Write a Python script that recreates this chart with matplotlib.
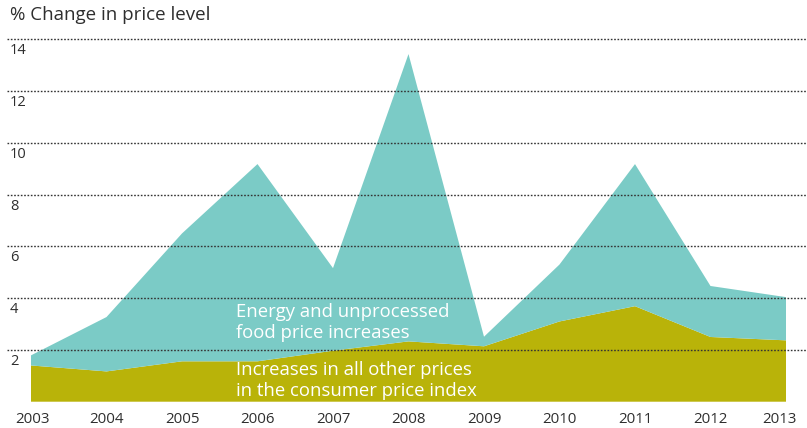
import matplotlib
matplotlib.use("Agg")
import matplotlib.pyplot as plt
import matplotlib.transforms as mtransforms

years = [2003, 2004, 2005, 2006, 2007, 2008, 2009, 2010, 2011, 2012, 2013]
other_prices = [1.40, 1.17, 1.56, 1.56, 1.97, 2.33, 2.14, 3.10, 3.69, 2.50, 2.37]
energy_food = [0.39, 2.10, 4.94, 7.62, 3.19, 11.10, 0.37, 2.20, 5.49, 1.97, 1.67]
ytick_values = [2, 4, 6, 8, 10, 12, 14]
ytick_labels = ["2", "4", "6", "8", "10", "12", "14"]
xtick_labels = [str(y) for y in years]
title = "% Change in price level"
label_energy = ["Energy and unprocessed", "food price increases"]
label_other = ["Increases in all other prices", "in the consumer price index"]

olive = "#b9b309"
teal = "#7bcbc6"
text_col = "#2e2e2e"

plt.rcParams['font.family'] = ['Open Sans', 'DejaVu Sans']

W, H = 807, 428
fig = plt.figure(figsize=(W / 100, H / 100), dpi=100)
left_px, right_px = 31, 786
zero_px, top_px = 401.7, 39.3
ax = fig.add_axes([left_px / W, (H - zero_px) / H,
                   (right_px - left_px) / W, (zero_px - top_px) / H])

ax.stackplot(years, other_prices, energy_food, colors=[olive, teal],
             linewidth=0, zorder=1)
ax.set_xlim(years[0], years[-1])
ax.set_ylim(0, 14)
for s in ax.spines.values():
    s.set_visible(False)
ax.set_xticks([])
ax.set_yticks([])

# dotted gridlines extending beyond axes
ax_w = right_px - left_px
xmin = (7 - left_px) / ax_w
xmax = (W - left_px) / ax_w
for v in ytick_values:
    ax.axhline(v, xmin=xmin, xmax=xmax, color="#333333", lw=1.0,
               linestyle=(0, (1.2, 1.2)), clip_on=False, zorder=3)

# y labels below gridlines at left
ytrans = mtransforms.blended_transform_factory(fig.transFigure, ax.transData)
ytrans = ytrans + mtransforms.ScaledTranslation(0, -11.5 / 100, fig.dpi_scale_trans)
for v, lab in zip(ytick_values, ytick_labels):
    ax.text(10 / W, v, lab, transform=ytrans, ha="left", va="center",
            fontsize=10.5, color=text_col)

# x labels
for i, (yr, lab) in enumerate(zip(years, xtick_labels)):
    dx = 0
    if i == len(years) - 1:
        dx = -7
    elif i == 0:
        dx = 1
    tr = ax.transData + mtransforms.ScaledTranslation(dx / 100, -17.5 / 100, fig.dpi_scale_trans)
    ax.text(yr, 0, lab, transform=tr, ha="center", va="center",
            fontsize=10.8, color=text_col)

fig.text(10 / W, 1 - 15.5 / H, title, ha="left", va="center",
         fontsize=13.5, color=text_col)

for line, base in zip(label_energy, [317.3, 338.3]):
    fig.text(236 / W, 1 - base / H, line, ha="left", va="baseline",
             fontsize=13.3, color="white")
for line, base in zip(label_other, [375.0, 395.5]):
    fig.text(236 / W, 1 - base / H, line, ha="left", va="baseline",
             fontsize=13.3, color="white")

fig.savefig("out.png", dpi=100)
